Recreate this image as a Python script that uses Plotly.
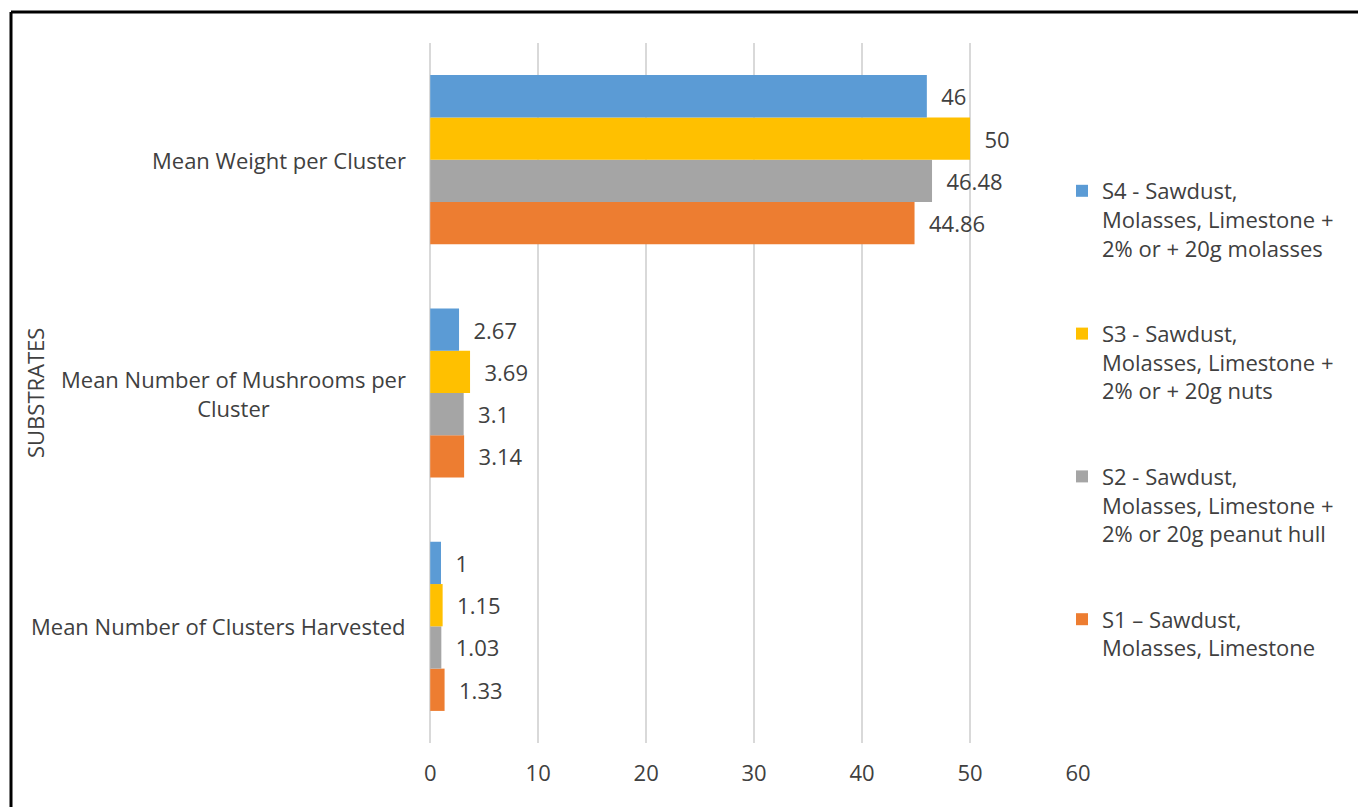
import plotly.graph_objects as go

categories = ["Mean Number of Clusters Harvested",
              "Mean Number of Mushrooms per Cluster",
              "Mean Weight per Cluster"]
category_labels = ["Mean Number of Clusters Harvested",
                   "Mean Number of Mushrooms per<br>Cluster",
                   "Mean Weight per Cluster"]

series_names = [
    "S1 \u2013 Sawdust,<br>Molasses, Limestone",
    "S2 - Sawdust,<br>Molasses, Limestone +<br>2% or 20g peanut hull",
    "S3 - Sawdust,<br>Molasses, Limestone +<br>2% or + 20g nuts",
    "S4 - Sawdust,<br>Molasses, Limestone +<br>2% or + 20g molasses",
]
s1_values = [1.33, 3.14, 44.86]
s2_values = [1.03, 3.1, 46.48]
s3_values = [1.15, 3.69, 50]
s4_values = [1, 2.67, 46]
series_values = [s1_values, s2_values, s3_values, s4_values]
series_colors = ["#ED7D31", "#A5A5A5", "#FFC000", "#5B9BD5"]

x_ticks = [0, 10, 20, 30, 40, 50, 60]

FONT = "Open Sans"
TXT = "#404040"
FS = 22

fig = go.Figure()
for i, (name, vals, col) in enumerate(zip(series_names, series_values, series_colors)):
    fig.add_trace(go.Bar(
        y=categories, x=vals, name=name, orientation="h",
        marker=dict(color=col, line=dict(width=0)),
        text=[f"\u00a0\u00a0{v:g}" for v in vals],
        textposition="outside", constraintext="none", cliponaxis=False,
        textfont=dict(family=FONT, size=FS, color=TXT),
        legendgroup=f"g{i}", legendrank=len(series_names) - i,
    ))

annotations = []
for cat, lab in zip(categories, category_labels):
    annotations.append(dict(
        x=0, xref="paper", y=cat, yref="y", text=lab, showarrow=False,
        xanchor="right", yanchor="middle", align="center", xshift=-22,
        font=dict(family=FONT, size=FS, color=TXT)))
annotations.append(dict(
    x=(35 - 430) / 648, xref="paper", y=0.5, yref="paper", text="SUBSTRATES",
    showarrow=False, textangle=-90, xanchor="center", yanchor="middle",
    font=dict(family=FONT, size=FS, color=TXT)))

fig.update_layout(
    width=1358, height=807,
    margin=dict(l=430, r=280, t=43, b=64),
    paper_bgcolor="white", plot_bgcolor="white",
    barmode="group", bargap=0.275, bargroupgap=0,
    font=dict(family=FONT, size=FS, color=TXT),
    xaxis=dict(range=[-0.02, 60], tickvals=x_ticks, showgrid=True,
               gridcolor="#D9D9D9", gridwidth=2, zeroline=True,
               zerolinecolor="#D9D9D9", zerolinewidth=2,
               showline=False, ticks="", ticklabelstandoff=15,
               tickfont=dict(family=FONT, size=FS, color=TXT)),
    yaxis=dict(showticklabels=False, ticks="", showgrid=False,
               zeroline=False, showline=False),
    legend=dict(x=(1062 - 430) / 648, xanchor="left", y=(743 - 170) / 700,
                yanchor="top", traceorder="grouped",
                tracegroupgap=54, valign="top",
                font=dict(family=FONT, size=FS, color=TXT),
                bgcolor="rgba(0,0,0,0)"),
    annotations=annotations,
    shapes=[
        dict(type="line", xref="paper", yref="paper",
             x0=(11 - 430) / 648, x1=(1362 - 430) / 648,
             y0=(743 - 12) / 700, y1=(743 - 12) / 700,
             line=dict(color="black", width=3)),
        dict(type="line", xref="paper", yref="paper",
             x0=(11 - 430) / 648, x1=(11 - 430) / 648,
             y0=(743 - 12) / 700, y1=(743 - 812) / 700,
             line=dict(color="black", width=3)),
    ],
)

fig.write_html("out.html")
